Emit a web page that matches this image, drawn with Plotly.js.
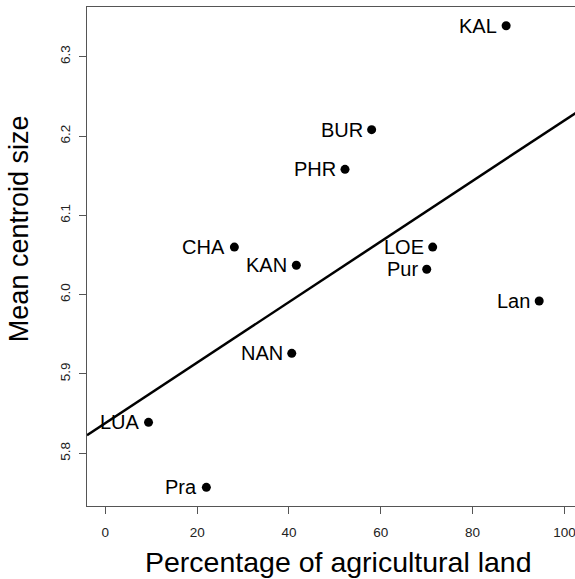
<!DOCTYPE html>
<html>
<head>
<meta charset="utf-8">
<script src="https://cdn.plot.ly/plotly-3.0.1.min.js"></script>
<style>html,body{margin:0;padding:0;background:#fff;}#chart{width:575px;height:579px;}</style>
</head>
<body>
<div id="chart"></div>
<script>
const sites = ["KAL","BUR","PHR","CHA","KAN","LOE","Pur","Lan","NAN","LUA","Pra"];
const agriPct = [87.3, 58.0, 52.2, 28.1, 41.6, 71.3, 70.0, 94.5, 40.6, 9.4, 22.0];
const centroidSize = [6.339, 6.208, 6.158, 6.060, 6.037, 6.060, 6.032, 5.992, 5.926, 5.839, 5.757];
const fitX = [-4, 104];
const fitY = [5.8227, 6.235];
const xTicks = [0, 20, 40, 60, 80, 100];
const yTicks = [5.8, 5.9, 6.0, 6.1, 6.2, 6.3];
const yTickText = ["5.8", "5.9", "6.0", "6.1", "6.2", "6.3"];
const xTitle = "Percentage of agricultural land";
const yTitle = "Mean centroid size";

const FONT = "Liberation Sans, Arial, Helvetica, sans-serif";

const traces = [
  {x: fitX, y: fitY, mode: "lines", line: {color: "#000", width: 2.5}, hoverinfo: "skip", showlegend: false},
  {x: agriPct, y: centroidSize, mode: "markers", marker: {color: "#000", size: 9}, showlegend: false}
];

const annotations = sites.map((s, i) => ({
  x: agriPct[i], y: centroidSize[i], xref: "x", yref: "y",
  text: s, showarrow: false, xanchor: "right", yanchor: "middle",
  xshift: -7, yshift: 0,
  font: {family: FONT, size: 20, color: "#000"}
}));
annotations.push({
  xref: "paper", yref: "paper", x: 0.516, y: -0.112, xanchor: "center", yanchor: "middle",
  text: xTitle, showarrow: false, font: {family: FONT, size: 28.5, color: "#000"}
});
annotations.push({
  xref: "paper", yref: "paper", x: -0.174, y: 0.555, xanchor: "left", yanchor: "middle",
  text: yTitle, textangle: -90, showarrow: false, font: {family: FONT, size: 27, color: "#000"}
});

const layout = {
  width: 575, height: 579,
  margin: {l: 87, r: 0, t: 7, b: 73},
  paper_bgcolor: "#fff", plot_bgcolor: "#fff",
  font: {family: FONT, color: "#000"},
  xaxis: {
    range: [-4, 102.3], tickvals: xTicks, ticktext: xTicks.map(String),
    showgrid: false, zeroline: false, showline: true, mirror: true,
    linecolor: "#555", linewidth: 1.2,
    ticks: "outside", ticklen: 7, tickcolor: "#555", tickwidth: 1,
    ticklabeloverflow: "allow", ticklabelstandoff: 7,
    tickfont: {family: FONT, size: 13.5, color: "#222"}
  },
  yaxis: {
    range: [5.7335, 6.3627], tickvals: yTicks, ticktext: yTickText,
    showgrid: false, zeroline: false, showline: true, mirror: false,
    linecolor: "#555", linewidth: 1.2,
    ticks: "outside", ticklen: 7, tickcolor: "#555", tickwidth: 1,
    tickangle: -90, ticklabelstandoff: 3,
    tickfont: {family: FONT, size: 13.5, color: "#222"}
  },
  annotations: annotations
};

Plotly.newPlot("chart", traces, layout, {staticPlot: true, displayModeBar: false});
</script>
</body>
</html>
